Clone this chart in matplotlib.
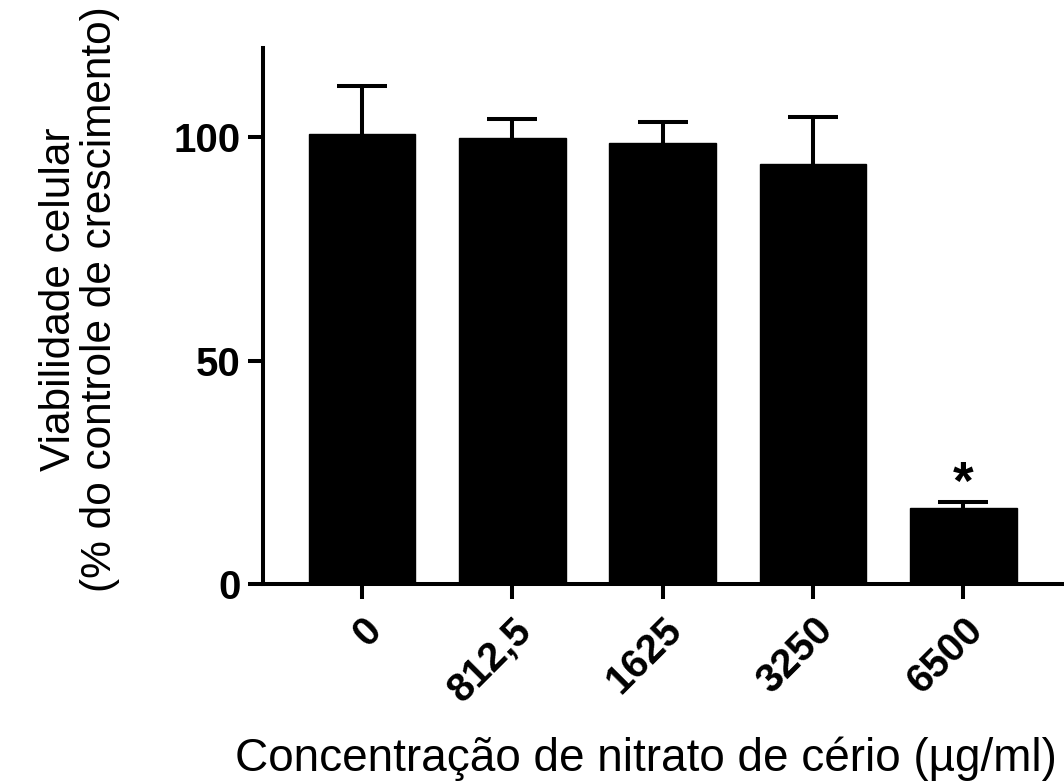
import matplotlib.pyplot as plt

plt.rcParams["font.family"] = ["Liberation Sans", "DejaVu Sans"]

concentrations = ["0", "812,5", "1625", "3250", "6500"]
viability = [100.6, 99.7, 98.6, 94.0, 17.1]
sem = [10.8, 4.4, 4.7, 10.5, 1.3]
significant = [False, False, False, False, True]

fig = plt.figure(figsize=(10.64, 7.82), dpi=100)
ax = fig.add_axes([0.247, 0.253, 0.753, 0.686])

x = list(range(len(concentrations)))
ax.bar(x, viability, width=0.71, color="black", edgecolor="black", zorder=2)
# upper error only, like GraphPad; hide the zero-length lower cap
eb = ax.errorbar(x, viability, yerr=[[0] * len(sem), sem], fmt="none", ecolor="black",
                 elinewidth=2.9, capsize=18, capthick=2.9, zorder=1)
eb[1][0].set_visible(False)

for xi, v, e, sig in zip(x, viability, sem, significant):
    if sig:
        ax.text(xi, v + e + 0.6, "*", ha="center", va="baseline",
                fontsize=38, fontweight="bold")

ax.set_xlim(-0.66, 4.67)
ax.set_ylim(0, 120)
ax.set_yticks([0, 50, 100])
ax.set_xticks(x)
ax.set_xticklabels(concentrations, rotation=45, ha="right", rotation_mode="anchor")

for side in ["top", "right"]:
    ax.spines[side].set_visible(False)
for side in ["left", "bottom"]:
    ax.spines[side].set_linewidth(2.9)

ax.tick_params(axis="both", width=2.9, length=11, labelsize=29)
ax.tick_params(axis="y", pad=5)
ax.tick_params(axis="x", pad=8)
for lbl in ax.get_xticklabels() + ax.get_yticklabels():
    lbl.set_fontweight("bold")

ax.set_xlabel("Concentração de nitrato de cério (µg/ml)", fontsize=33)
ax.xaxis.set_label_coords(0.478, -0.284)
ax.set_ylabel("Viabilidade celular\n(% do controle de crescimento)", fontsize=30.5,
              linespacing=1.05)
ax.yaxis.set_label_coords(-0.178, 0.532)

fig.savefig("out.png", dpi=100)
